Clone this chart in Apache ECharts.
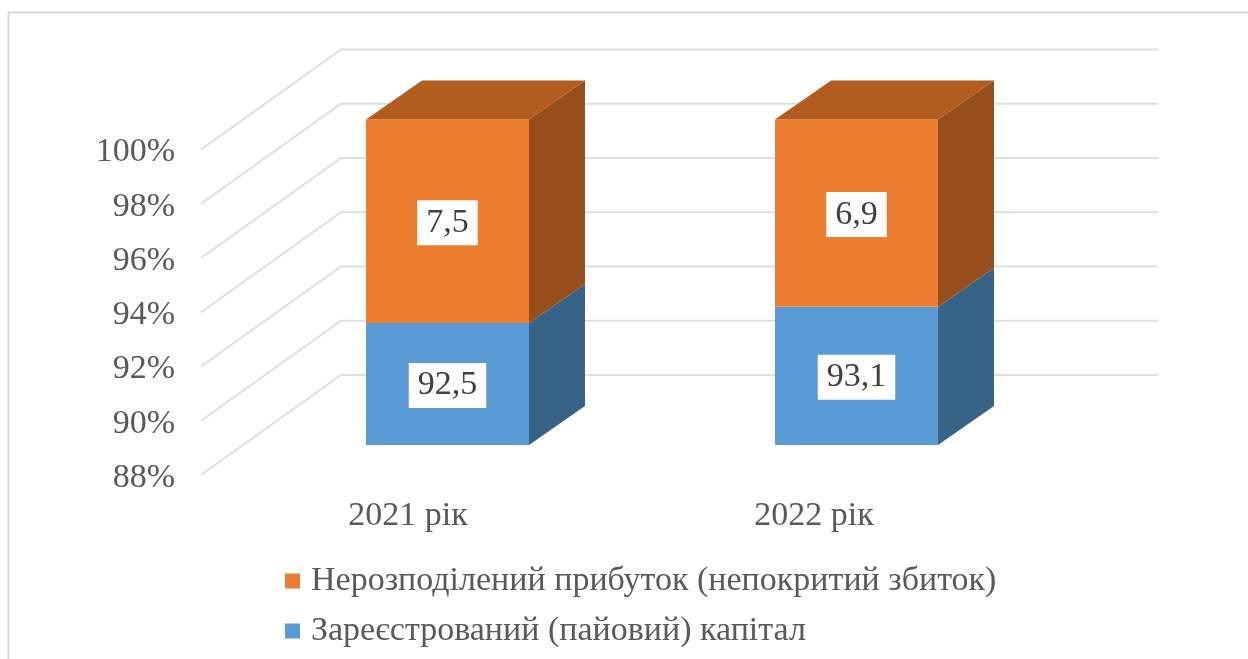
<!DOCTYPE html>
<html>
<head>
<meta charset="utf-8">
<script src="https://cdn.jsdelivr.net/npm/echarts@6/dist/echarts.min.js"></script>
<style>html,body{margin:0;padding:0;background:#fff}#c{width:1248px;height:659px}</style>
</head>
<body>
<div id="c"></div>
<script>
const categories = ['2021 рік', '2022 рік'];
const capitalName = 'Зареєстрований (пайовий) капітал';
const profitName = 'Нерозподілений прибуток (непокритий збиток)';
const capital = [92.5, 93.1];
const profit = [7.5, 6.9];
const axisTicks = [88, 90, 92, 94, 96, 98, 100];

const FONT = '"Liberation Serif", serif';
const TEXT = '#595959';
const DX = 56, DY = -39;            // bar depth
const WALL_DX = 140, WALL_DY = -100; // floor/wall depth
const WALL_RIGHT = 1158;
const LABEL_DROP = 3;               // tick labels sit slightly below the wall lines

function boxItem(front, side, top, showTop) {
  return function (params, api) {
    const i = api.value(0), lo = api.value(1), hi = api.value(2);
    const c0 = api.coord([i, Math.max(lo, 88)]);
    const c1 = api.coord([i, hi]);
    const w = api.size([1, 0])[0] * 0.3985;
    const xl = c0[0] - w / 2, xr = c0[0] + w / 2, yb = c0[1], yt = c1[1];
    const children = [
      { type: 'polygon', shape: { points: [[xr, yb], [xr + DX, yb + DY], [xr + DX, yt + DY], [xr, yt]] }, style: { fill: side } },
      { type: 'rect', shape: { x: xl, y: yt, width: w, height: yb - yt }, style: { fill: front } }
    ];
    if (showTop) {
      children.push({ type: 'polygon', shape: { points: [[xl, yt], [xr, yt], [xr + DX, yt + DY], [xl + DX, yt + DY]] }, style: { fill: top } });
    }
    children.push({
      type: 'text', z2: 10,
      style: {
        text: String(api.value(3)).replace('.', ','),
        x: c0[0], y: (yb + yt) / 2 + 1.5, align: 'center', verticalAlign: 'middle',
        font: '34px ' + FONT, fill: '#404040',
        backgroundColor: '#fff', padding: [6, 9, 5, 9]
      }
    });
    return { type: 'group', children };
  };
}

const chart = echarts.init(document.getElementById('c'), null, { renderer: 'canvas' });
chart.setOption({
  animation: false,
  backgroundColor: '#fff',
  graphic: [{
    type: 'polyline', silent: true,
    shape: { points: [[8.5, 659], [8.5, 12.5], [1248, 12.5]] },
    style: { stroke: '#d9d9d9', lineWidth: 2, fill: null }
  }],
  legend: {
    orient: 'vertical', left: 280, top: 556, itemGap: 10,
    itemWidth: 15, itemHeight: 15, icon: 'rect',
    data: [profitName, capitalName],
    textStyle: { fontFamily: FONT, fontSize: 34, color: TEXT, padding: [4, 0, 0, 6], lineHeight: 36 }
  },
  grid: [
    { left: 243, width: 818, top: 119.5, height: 325.5 },
    { left: 205, width: 812, top: 149.5 + LABEL_DROP, height: 325.5 }
  ],
  xAxis: [
    { gridIndex: 0, type: 'category', data: categories, axisLine: { show: false }, axisTick: { show: false }, axisLabel: { show: false } },
    {
      gridIndex: 1, type: 'category', data: categories,
      axisLine: { show: false }, axisTick: { show: false },
      axisLabel: { fontFamily: FONT, fontSize: 34, color: TEXT, margin: 24 - LABEL_DROP }
    }
  ],
  yAxis: [
    { gridIndex: 0, type: 'value', min: 88, max: 100, interval: 2, axisLine: { show: false }, axisTick: { show: false }, axisLabel: { show: false }, splitLine: { show: false } },
    {
      gridIndex: 1, type: 'value', min: 88, max: 100, interval: 2,
      axisLine: { show: false }, axisTick: { show: false }, splitLine: { show: false },
      axisLabel: { formatter: '{value}%', fontFamily: FONT, fontSize: 34, color: TEXT, margin: 30 }
    }
  ],
  series: [
    {
      type: 'custom', name: 'walls', xAxisIndex: 1, yAxisIndex: 1, silent: true,
      data: axisTicks.map(v => [0, v]),
      encode: { x: 0, y: 1 },
      renderItem(params, api) {
        const y = api.coord([0, api.value(1)])[1] - LABEL_DROP;
        const x = params.coordSys.x - 4;
        return {
          type: 'polyline',
          shape: { points: [[x, y], [x + WALL_DX, y + WALL_DY], [WALL_RIGHT, y + WALL_DY]] },
          style: { stroke: '#dedede', lineWidth: 2, fill: null }
        };
      }
    },
    {
      type: 'custom', name: capitalName, xAxisIndex: 0, yAxisIndex: 0,
      itemStyle: { color: '#5b9bd5' },
      data: capital.map((v, i) => [i, 0, v, v]),
      encode: { x: 0, y: 2 },
      renderItem: boxItem('#5b9bd5', '#376387', '#4a7eae', false)
    },
    {
      type: 'custom', name: profitName, xAxisIndex: 0, yAxisIndex: 0,
      itemStyle: { color: '#ed7d31' },
      data: profit.map((v, i) => [i, capital[i], capital[i] + v, v]),
      encode: { x: 0, y: 2 },
      renderItem: boxItem('#ed7d31', '#964f1a', '#b35c20', true)
    }
  ]
});
</script>
</body>
</html>
